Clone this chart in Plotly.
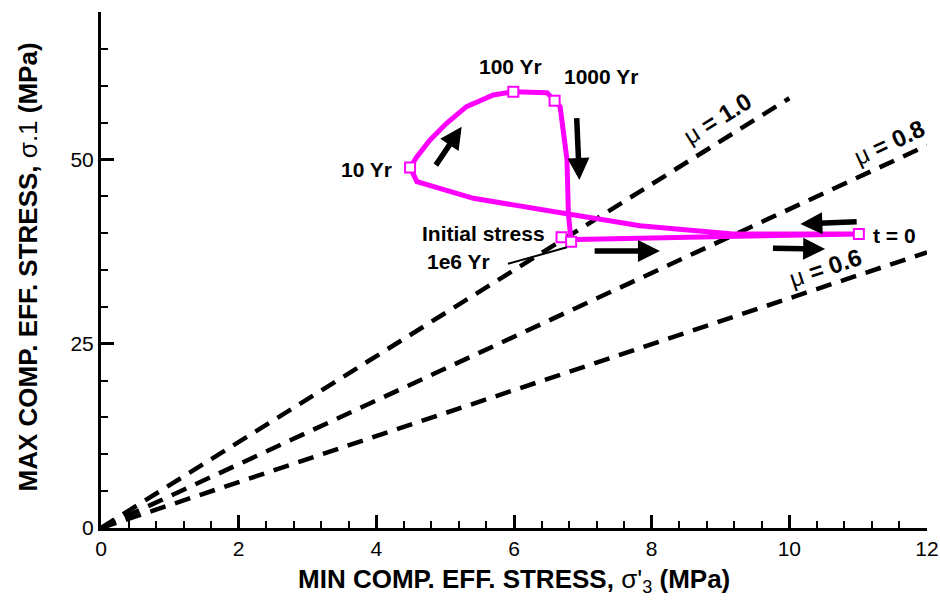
import plotly.graph_objects as go

# Stress path (sigma'3, sigma1) in MPa, from the initial state through t = 0 and back
path_s3 = [6.69, 6.83, 6.91, 8.70, 11.01,
           9.18, 8.70, 8.12, 7.83, 6.81, 6.09, 5.41, 4.59, 4.49,
           4.59, 4.78, 5.02, 5.31, 5.70, 5.99, 6.48, 6.59,
           6.67, 6.77, 6.79, 6.83]
path_s1 = [39.44, 38.84, 39.14, 39.48, 39.89,
           39.89, 40.29, 40.84, 41.01, 42.56, 43.59, 44.73, 46.98, 48.91,
           50.37, 52.64, 54.90, 57.16, 58.74, 59.19, 59.06, 57.97,
           57.16, 49.93, 42.69, 38.84]

# Labelled states
state_names = ["Initial stress", "t = 0", "10 Yr", "100 Yr", "1000 Yr", "1e6 Yr"]
state_s3 = [6.69, 11.01, 4.49, 5.99, 6.59, 6.83]
state_s1 = [39.44, 39.89, 48.91, 59.19, 57.97, 38.84]

# Frictional failure lines through the origin
mu_values = [1.0, 0.8, 0.6]
mu_end_s3 = [10.0, 12.0, 12.0]
mu_end_s1 = [58.3, 51.9, 37.4]

# Axis ticks
x_ticks = [0, 2, 4, 6, 8, 10, 12]
y_ticks = [0, 25, 50]

FONT = "Liberation Sans, Arial, sans-serif"
MAGENTA = "#FF00FF"

fig = go.Figure()

for mu, xe, ye in zip(mu_values, mu_end_s3, mu_end_s1):
    fig.add_trace(go.Scatter(
        x=[0, xe], y=[0, ye], mode="lines",
        line=dict(color="black", width=4.5, dash="16px,10px"),
        hoverinfo="skip", showlegend=False, cliponaxis=False))

fig.add_trace(go.Scatter(
    x=path_s3, y=path_s1, mode="lines",
    line=dict(color=MAGENTA, width=5),
    showlegend=False))

fig.add_trace(go.Scatter(
    x=state_s3, y=state_s1, mode="markers", text=state_names,
    marker=dict(symbol="square", size=10, color="white",
                line=dict(color=MAGENTA, width=2)),
    showlegend=False, cliponaxis=False))

annotations = []

# State labels
label_pos = {
    "Initial stress": (5.55, 39.9),
    "t = 0": (11.53, 39.7),
    "10 Yr": (3.86, 48.65),
    "100 Yr": (5.95, 62.6),
    "1000 Yr": (7.27, 61.3),
    "1e6 Yr": (5.19, 36.15),
}
for name, (lx, ly) in label_pos.items():
    annotations.append(dict(
        x=lx, y=ly, xref="x", yref="y", text="<b>%s</b>" % name,
        showarrow=False, xanchor="center", yanchor="middle",
        font=dict(family=FONT, size=21, color="black")))

# Leader line from the "1e6 Yr" label to its point
annotations.append(dict(
    x=6.77, y=38.08, ax=5.89, ay=35.78, xref="x", yref="y",
    axref="x", ayref="y", text="", showarrow=True,
    arrowhead=0, arrowwidth=2, arrowcolor="black"))

# Direction arrows along the path: (tail_x, tail_y, tip_x, tip_y)
arrows = [
    (4.85, 49.02, 5.24, 54.44),
    (6.91, 55.80, 6.95, 47.21),
    (7.15, 37.58, 8.12, 37.58),
    (9.74, 37.95, 10.52, 37.85),
    (11.00, 41.55, 10.16, 41.24),
]
for tx, ty, hx, hy in arrows:
    annotations.append(dict(
        x=hx, y=hy, ax=tx, ay=ty, xref="x", yref="y",
        axref="x", ayref="y", text="", showarrow=True,
        arrowhead=2, arrowsize=0.8, arrowwidth=5.5, arrowcolor="black",
        standoff=0, startstandoff=0))

# Friction coefficient labels, rotated along their lines and sitting just above them
mu_label_pos = [(8.95, 55.6, -31.9), (11.45, 52.3, -24.8), (10.53, 35.4, -18.4)]
for mu, (lx, ly, ang) in zip(mu_values, mu_label_pos):
    annotations.append(dict(
        x=lx, y=ly, xref="x", yref="y",
        text="μ <b>= %.1f</b>" % mu, showarrow=False, textangle=ang,
        xanchor="center", yanchor="middle",
        font=dict(family=FONT, size=24, color="black")))

# Axis titles
annotations.append(dict(
    x=0.5, y=0, xref="paper", yref="paper", yshift=-52,
    text="<b>MIN COMP. EFF. STRESS, </b>σ'<sub>3</sub><b> (MPa)</b>",
    showarrow=False, xanchor="center", yanchor="middle",
    font=dict(family=FONT, size=26, color="black")))
annotations.append(dict(
    x=0, y=0.505, xref="paper", yref="paper", xshift=-73,
    text="<b>MAX COMP. EFF. STRESS, </b>σ.1<b> (MPa)</b>",
    showarrow=False, xanchor="center", yanchor="middle", textangle=-90,
    font=dict(family=FONT, size=26, color="black")))

axis_common = dict(
    showline=True, linewidth=3, linecolor="black", mirror=False,
    showgrid=False, zeroline=False, automargin=False,
    ticks="inside", ticklen=13, tickwidth=2.5, tickcolor="black",
    tickfont=dict(family=FONT, size=21, color="black"),
)

fig.update_layout(
    width=940, height=606, autosize=False,
    margin=dict(l=101, r=13, t=12, b=78),
    paper_bgcolor="white", plot_bgcolor="white",
    font=dict(family=FONT, color="black"),
    showlegend=False,
    annotations=annotations,
    xaxis=dict(range=[0, 12], tickvals=x_ticks, ticktext=[str(v) for v in x_ticks],
               minor=dict(dtick=0.4, tick0=0, ticks="inside", ticklen=7,
                          tickwidth=2, tickcolor="black"),
               **axis_common),
    yaxis=dict(range=[0, 70], tickvals=y_ticks, ticktext=[str(v) for v in y_ticks],
               minor=dict(dtick=5, tick0=0, ticks="inside", ticklen=7,
                          tickwidth=2, tickcolor="black"),
               **axis_common),
)

fig.write_html("out.html")
